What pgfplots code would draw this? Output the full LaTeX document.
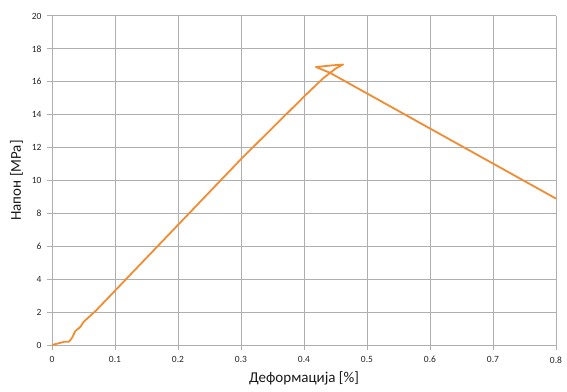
\documentclass[border=0pt]{standalone}
\usepackage{fontspec}
\setmainfont{Carlito}
\usepackage{pgfplots}
\pgfplotsset{compat=1.18}
\definecolor{lineor}{RGB}{242,140,50}
\definecolor{gridg}{RGB}{175,175,175}
\begin{document}
\begin{tikzpicture}
\begin{axis}[
  scale only axis,
  width=504pt, height=329pt,
  xmin=0, xmax=0.8, ymin=0, ymax=20,
  xtick={0,0.1,...,0.8}, ytick={0,2,...,20},
  xticklabels={0,0.1,0.2,0.3,0.4,0.5,0.6,0.7,0.8},
  grid=major,
  major grid style={gridg, line width=1pt},
  axis line style={gridg, line width=1pt},
  axis x line*=bottom, axis y line*=left,
  tick style={gridg, line width=1pt},
  tick align=outside,
  major tick length=5pt,
  /pgf/number format/assume math mode=true,
  ticklabel style={font=\fontsize{9.5}{10}\selectfont, text=black!85},
  yticklabel style={xshift=-2pt},
  xticklabel style={yshift=-3pt},
  xlabel={Деформација [\%]},
  ylabel={Напон [MPa]},
  label style={font=\fontsize{15}{17}\selectfont, text=black!90},
  xlabel style={yshift=-2pt},
  ylabel style={yshift=2pt},
  clip=false,
]
\addplot[lineor, line width=1.8pt, line join=round] coordinates {
(0,0) (0.01,0.1) (0.02,0.2) (0.027,0.2) (0.032,0.45) (0.037,0.85) (0.045,1.1) (0.05,1.4) (0.06,1.75) (0.07,2.1) (0.08,2.5) (0.09,2.9) (0.1,3.3)
(0.15,5.3) (0.2,7.3) (0.25,9.3) (0.3,11.3) (0.35,13.2) (0.4,15.1) (0.43,16.2) (0.45,16.8) (0.462,17.05)
(0.445,17.0) (0.419,16.9) (0.441,16.55) (0.8,8.9)
};
\coordinate (ll) at (rel axis cs:0,0);
\coordinate (ur) at (rel axis cs:1,1);
\end{axis}
\pgfresetboundingbox
\path ([shift={(-52pt,-46pt)}]ll) rectangle ([shift={(11pt,16pt)}]ur);
\end{tikzpicture}
\end{document}
